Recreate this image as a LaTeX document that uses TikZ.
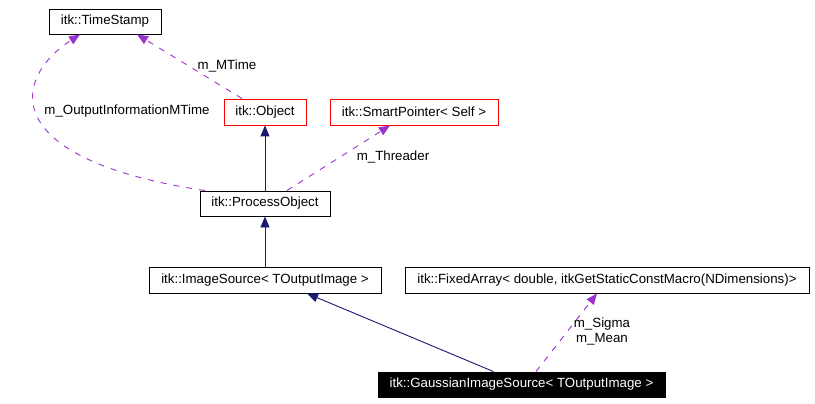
\documentclass[tikz,border=0pt]{standalone}
\usepackage{fontspec}
\setmainfont{Liberation Sans}
\usepackage{tikz}
\usetikzlibrary{arrows.meta,positioning,calc}
\definecolor{edgenavy}{RGB}{25,25,112}
\definecolor{edgepurple}{RGB}{154,50,205}
\definecolor{boxred}{RGB}{255,0,0}
\tikzset{
    cls/.style={draw=black, line width=0.9pt, fill=white, minimum height=25pt, inner sep=0pt, font=\fontsize{13.3pt}{16pt}\selectfont},
    redcls/.style={cls, draw=boxred},
    curcls/.style={cls, fill=black, text=white},
    inherit/.style={edgenavy, line width=0.9pt, -{Triangle[length=11pt,width=9pt]}},
    usage/.style={edgepurple, line width=0.9pt, dash pattern=on 6pt off 7pt, -{Triangle[length=11pt,width=9pt]}},
    lbl/.style={font=\fontsize{13.3pt}{15pt}\selectfont, inner sep=0pt, align=center}
}

\begin{document}
\begin{tikzpicture}[x=1pt, y=-1pt]
    \useasboundingbox (0,0) rectangle (815,404);

    % classes
    \node[cls, minimum width=112pt] (ts) at (105,21.5) {itk::TimeStamp};
    \node[redcls, minimum width=82pt, minimum height=26pt] (obj) at (265,112) {itk::Object};
    \node[redcls, minimum width=168pt, minimum height=26pt] (sp) at (414,112) {itk::SmartPointer< Self >};
    \node[cls, minimum width=130pt] (po) at (265,203.5) {itk::ProcessObject};
    \node[cls, minimum width=232pt, minimum height=26pt] (is) at (265,280) {itk::ImageSource< TOutputImage >};
    \node[cls, minimum width=404pt, minimum height=26pt] (fa) at (607,280) {itk::FixedArray< double, itkGetStaticConstMacro(NDimensions)>};
    \node[curcls, minimum width=287pt] (gis) at (521.5,384.5) {itk::GaussianImageSource< TOutputImage >};

    % inheritance
    \draw[inherit] (po) -- (obj);
    \draw[inherit] (is) -- (po);
    \draw[inherit] ([xshift=-28pt]gis.north) -- ([xshift=42pt]is.south);

    % members
    \draw[usage] ([xshift=-23pt]obj.north) -- ([xshift=32pt]ts.south);
    \draw[usage] ([xshift=-60pt]po.north) .. controls (0,160) and (10,80) .. ([xshift=-25pt]ts.south);
    \draw[usage] ([xshift=22pt]po.north) -- ([xshift=-24pt]sp.south);
    \draw[usage] ([xshift=14.5pt]gis.north) -- ([xshift=-10pt]fa.south);

    \node[lbl] (lmtime) at (227,66) {m\_MTime};
    \node[lbl] (loutinfo) at (127,111) {m\_OutputInformationMTime};
    \node[lbl] (lthreader) at (393,157) {m\_Threader};
    \node[lbl] (lsigma) at (602,332) {m\_Sigma\\m\_Mean};
\end{tikzpicture}
\end{document}
